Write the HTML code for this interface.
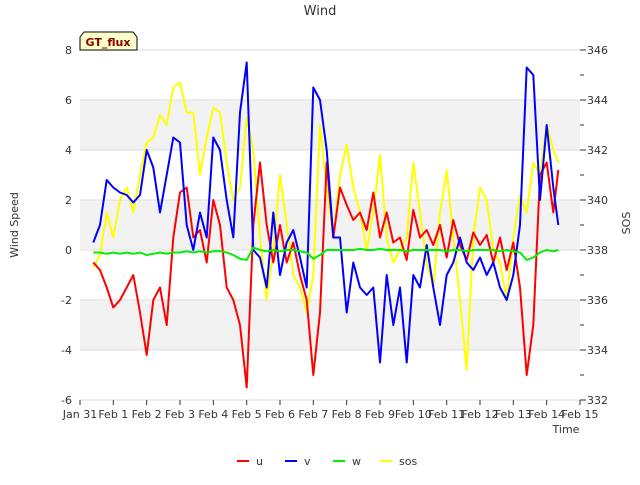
<!DOCTYPE html>
<html><head><meta charset="utf-8"><style>
body{margin:0;background:#fff;font-family:"Liberation Sans",sans-serif}
svg text{font-family:"DejaVu Sans","Liberation Sans",sans-serif}
</style></head><body>
<svg id="c" width="640" height="480" xmlns="http://www.w3.org/2000/svg"></svg>
<script>
const start=0.4, step=0.2;
const uVals=[-0.5,-0.8,-1.5,-2.3,-2.0,-1.5,-1.0,-2.5,-4.2,-2.0,-1.5,-3.0,0.5,2.3,2.5,0.5,0.8,-0.5,2.0,1.0,-1.5,-2.0,-3.0,-5.5,1.0,3.5,1.0,-0.5,1.0,-0.5,0.3,-1.0,-2.0,-5.0,-2.5,3.5,0.5,2.5,1.8,1.2,1.5,0.8,2.3,0.5,1.5,0.3,0.5,-0.4,1.6,0.5,0.8,0.2,1.0,-0.3,1.2,0.2,-0.4,0.7,0.2,0.6,-0.5,0.5,-0.8,0.3,-1.5,-5.0,-3.0,3.0,3.5,1.5,3.2];
const vVals=[0.3,1.0,2.8,2.5,2.3,2.2,1.9,2.2,4.0,3.3,1.5,3.0,4.5,4.3,1.0,0.0,1.5,0.5,4.5,4.0,2.0,0.5,5.5,7.5,0.0,-0.3,-1.5,1.5,-1.0,0.3,0.8,-0.3,-1.5,6.5,6.0,4.0,0.5,0.5,-2.5,-0.5,-1.5,-1.8,-1.5,-4.5,-1.0,-3.0,-1.5,-4.5,-1.0,-1.5,0.2,-1.5,-3.0,-1.0,-0.5,0.5,-0.5,-0.8,-0.3,-1.0,-0.5,-1.5,-2.0,-1.0,1.0,7.3,7.0,2.0,5.0,2.5,1.0];
const wVals=[-0.1,-0.1,-0.15,-0.1,-0.15,-0.1,-0.15,-0.1,-0.2,-0.15,-0.1,-0.15,-0.1,-0.1,-0.05,-0.1,-0.05,-0.1,-0.05,-0.05,-0.1,-0.2,-0.35,-0.4,0.1,0.0,-0.05,0.0,-0.05,0.0,0.0,-0.05,-0.1,-0.35,-0.2,0.0,0.0,0.0,0.0,0.0,0.05,0.0,0.0,0.05,0.0,0.0,0.0,-0.05,0.0,0.0,0.0,0.0,0.0,-0.05,0.0,0.0,-0.05,0.0,0.0,0.0,0.0,-0.05,0.0,-0.05,-0.1,-0.4,-0.3,-0.1,0.0,-0.05,0.0];
const sosVals=[337.3,337.8,339.5,338.5,340.0,340.5,339.5,341.0,342.3,342.5,343.4,343.0,344.5,344.7,343.5,343.5,341.0,342.5,343.7,343.5,341.5,340.0,340.5,343.3,342.0,338.5,336.0,338.0,341.0,339.0,337.0,336.5,335.5,337.0,343.0,340.5,338.5,341.0,342.2,340.5,339.5,338.0,339.5,341.8,338.5,337.5,338.0,338.5,341.5,339.5,337.5,336.5,339.5,341.2,338.5,336.0,333.2,338.5,340.5,340.0,338.0,337.5,336.0,338.5,340.2,339.5,341.5,341.0,343.0,342.0,341.5];
const xTicks=["Jan 31","Feb 1","Feb 2","Feb 3","Feb 4","Feb 5","Feb 6","Feb 7","Feb 8","Feb 9","Feb 10","Feb 11","Feb 12","Feb 13","Feb 14","Feb 15"];
const yTicks=[-6,-4,-2,0,2,4,6,8];
const y2Ticks=[332,334,336,338,340,342,344,346];

const NS="http://www.w3.org/2000/svg", svg=document.getElementById('c');
const L=80,R=580,T=50,B=400;
const X=d=>L+d*(R-L)/15, Y=v=>T+(8-v)*(B-T)/14, Y2=s=>T+(346-s)*(B-T)/14;
function mk(tag,a,p){const e=document.createElementNS(NS,tag);for(const k in a)e.setAttribute(k,a[k]);(p||svg).appendChild(e);return e;}
function tx(s,x,y,o){const e=mk('text',Object.assign({x:x,y:y,'font-size':11,fill:'#333'},o||{}));e.textContent=s;return e;}
const plot=mk('rect',{x:L,y:T,width:R-L,height:B-T,fill:'#fff'});

[[4,6],[0,2],[-4,-2]].forEach(b=>{const r=mk('rect',{x:L,y:Y(b[1]),width:R-L,height:Y(b[0])-Y(b[1]),fill:'#f2f2f2'});
});
yTicks.forEach(v=>{const g=mk('line',{x1:L,x2:R,y1:Y(v),y2:Y(v),stroke:'#ddd'});

const t=tx(String(v),72,Y(v)+4,{'text-anchor':'end'});
});
for(let s=332;s<=346;s++){const k=mk('line',{x1:R,x2:R+(s%2?4:6),y1:Y2(s),y2:Y2(s),stroke:'#333'});
}
y2Ticks.forEach(s=>{const t=tx(String(s),587,Y2(s)+4);
});
xTicks.forEach((s,i)=>{const k=mk('line',{x1:X(i),x2:X(i),y1:B,y2:B+5,stroke:'#333'});

const t=tx(s,X(i),418,{'text-anchor':'middle'});
});
function series(vals,fn,color,name){
 const pts=vals.map((v,i)=>{const t=i<vals.length-1?start+i*step:start+(i-1)*step+0.15;return X(t).toFixed(1)+','+fn(v).toFixed(1);}).join(' ');
 const p=mk('polyline',{points:pts,fill:'none',stroke:color,'stroke-width':2,'stroke-linejoin':'round'});
 }
series(sosVals,Y2,'#ffff00','sos-line');
series(uVals,Y,'#ff0000','u-line');
series(vVals,Y,'#0000ff','v-line');
series(wVals,Y,'#00ee00','w-line');
let t=tx('Wind',320,15,{'text-anchor':'middle','font-size':13});

t=tx('Wind Speed',18,225,{'text-anchor':'middle',transform:'rotate(-90 18 225)'});

t=tx('SOS',630,223,{'text-anchor':'middle',transform:'rotate(-90 630 223)'});

t=tx('Time',566,433,{'text-anchor':'middle'});

const bx=mk('path',{d:'M80,50 L80,37 L84,32 L133,32 L137,37 L137,50 Z',fill:'#ffffcc',stroke:'#000'});

t=tx('GT_flux',108,46,{'text-anchor':'middle','font-weight':'bold',fill:'#8b0000'});

[['u','#ff0000',237],['v','#0000ff',285],['w','#00ee00',333],['sos','#ffff00',380]].forEach(l=>{
 const ln=mk('line',{x1:l[2],x2:l[2]+12,y1:461,y2:461,stroke:l[1],'stroke-width':2});
 
 const tt=tx(l[0],l[2]+19,465);
 });
</script>
</body></html>
